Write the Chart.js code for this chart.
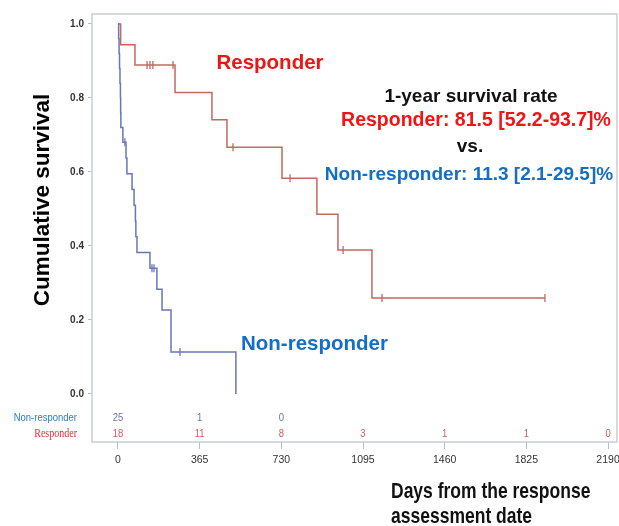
<!DOCTYPE html>
<html>
<head>
<meta charset="utf-8">
<script src="https://cdn.jsdelivr.net/npm/chart.js@4/dist/chart.umd.min.js"></script>
<style>
  html,body{margin:0;padding:0;background:#fff;}
  #wrap{width:619px;height:526px;position:relative;}
</style>
</head>
<body>
<div id="wrap"><canvas id="c"></canvas></div>
<script>
// ---- Data ----
const respDays = [0, 12, 76, 255, 420, 487, 733, 889, 983, 1135, 1908];
const respSurv = [1, 0.944, 0.889, 0.815, 0.741, 0.667, 0.583, 0.486, 0.389, 0.259, 0.259];
const respCensorDays = [130, 143, 156, 246, 514, 769, 1006, 1180, 1908];
const respCensorSurv = [0.889, 0.889, 0.889, 0.889, 0.667, 0.583, 0.389, 0.259, 0.259];

const nonDays = [0, 3, 5, 7, 9, 11, 12, 13, 22, 36, 40, 63, 72, 78, 80, 85, 143, 174, 197, 237, 527];
const nonSurv = [1, 0.96, 0.92, 0.88, 0.84, 0.80, 0.76, 0.72, 0.68, 0.6375, 0.595, 0.5525, 0.51, 0.4675, 0.425, 0.3825, 0.34, 0.283, 0.227, 0.113, 0];
const nonCensorDays = [31, 152, 161, 277];
const nonCensorSurv = [0.68, 0.34, 0.34, 0.113];

const xTicks = [0, 365, 730, 1095, 1460, 1825, 2190];
const yTicks = [0, 0.2, 0.4, 0.6, 0.8, 1.0];
const riskTimes = [0, 365, 730, 1095, 1460, 1825, 2190];
const riskNon = [25, 1, 0];
const riskResp = [18, 11, 8, 3, 1, 1, 0];

const RED = 'rgb(196,104,96)';
const BLUE = 'rgb(104,118,184)';

const pts = (xs, ys) => xs.map((x, i) => ({x, y: ys[i]}));

function txt(ctx, s, x, y, font, color, align, sy) {
  ctx.save();
  ctx.translate(x, y);
  ctx.scale(1, sy || 1);
  ctx.font = font;
  ctx.fillStyle = color;
  ctx.textAlign = align || 'left';
  ctx.textBaseline = 'middle';
  ctx.fillText(s, 0, 0);
  ctx.restore();
}

const SANS = '"Liberation Sans", Arial, Helvetica, sans-serif';

const annot = {
  id: 'annot',
  beforeDatasetsDraw(chart) {
    const {ctx, chartArea: a} = chart;
    ctx.save();
    ctx.strokeStyle = '#c8cdd6';
    ctx.lineWidth = 1.5;
    ctx.strokeRect(a.left, a.top, a.right - a.left, a.bottom - a.top);
    ctx.restore();
  },
  afterDraw(chart) {
    const ctx = chart.ctx;
    const xs = chart.scales.x, ys = chart.scales.y;
    // risk table
    const yNon = ys.getPixelForValue(-0.065);
    const yResp = ys.getPixelForValue(-0.108);
    riskNon.forEach((v, i) => txt(ctx, String(v), xs.getPixelForValue(riskTimes[i]), yNon, '9.5px ' + SANS, 'rgb(110,115,175)', 'center', 1.2));
    riskResp.forEach((v, i) => txt(ctx, String(v), xs.getPixelForValue(riskTimes[i]), yResp, '9.5px ' + SANS, 'rgb(205,95,90)', 'center', 1.2));
    txt(ctx, 'Non-responder', 77, yNon, '9.5px ' + SANS, 'rgb(40,125,205)', 'right', 1.2);
    txt(ctx, 'Responder', 77, yResp, '10px "Liberation Serif", "Times New Roman", serif', 'rgb(225,50,50)', 'right', 1.2);

    // Y axis title
    ctx.save();
    ctx.translate(43, 200);
    ctx.rotate(-Math.PI / 2);
    ctx.scale(1, 0.95);
    ctx.font = 'bold 22.5px ' + SANS;
    ctx.fillStyle = '#000';
    ctx.textAlign = 'center';
    ctx.textBaseline = 'middle';
    ctx.fillText('Cumulative survival', 0, 0);
    ctx.restore();

    // X axis title
    txt(ctx, 'Days from the response', 391, 492, 'bold 17.5px ' + SANS, '#111', 'left', 1.25);
    txt(ctx, 'assessment date', 391, 517, 'bold 17.5px ' + SANS, '#111', 'left', 1.25);

    // curve labels
    txt(ctx, 'Responder', 270, 63, 'bold 20.5px ' + SANS, 'rgb(240,20,20)', 'center', 1);
    txt(ctx, 'Non-responder', 241, 344, 'bold 20.5px ' + SANS, 'rgb(20,110,195)', 'left', 1);

    // 1-year survival block
    txt(ctx, '1-year survival rate', 471, 97, 'bold 19px ' + SANS, '#111', 'center', 1);
    txt(ctx, 'Responder: 81.5 [52.2-93.7]%', 476, 121, 'bold 19.5px ' + SANS, 'rgb(240,20,20)', 'center', 1);
    txt(ctx, 'vs.', 470, 147, 'bold 19px ' + SANS, '#111', 'center', 1);
    txt(ctx, 'Non-responder: 11.3 [2.1-29.5]%', 469, 175, 'bold 19px ' + SANS, 'rgb(20,110,195)', 'center', 1);
  }
};

new Chart(document.getElementById('c'), {
  type: 'line',
  data: {
    datasets: [
      {label: 'Non-responder', data: pts(nonDays, nonSurv), borderColor: BLUE, borderWidth: 1.5, pointRadius: 0, stepped: true, fill: false},
      {label: 'Responder', data: pts(respDays, respSurv), borderColor: RED, borderWidth: 1.5, pointRadius: 0, stepped: true, fill: false},
      {type: 'scatter', label: 'nc', data: pts(nonCensorDays, nonCensorSurv), pointStyle: 'line', pointRotation: 90, pointRadius: 4, borderColor: BLUE, pointBorderWidth: 1.3, showLine: false},
      {type: 'scatter', label: 'rc', data: pts(respCensorDays, respCensorSurv), pointStyle: 'line', pointRotation: 90, pointRadius: 4, borderColor: RED, pointBorderWidth: 1.3, showLine: false}
    ]
  },
  options: {
    responsive: true,
    maintainAspectRatio: false,
    animation: false,
    layout: {autoPadding: false, padding: {top: 14, right: 2, left: 0, bottom: 0}},
    plugins: {legend: {display: false}, tooltip: {enabled: false}},
    scales: {
      x: {
        type: 'linear', min: -116, max: 2230,
        afterBuildTicks: s => { s.ticks = xTicks.map(v => ({value: v})); },
        afterFit: s => { s.height = 84; s.paddingLeft = 0; s.paddingRight = 0; },
        grid: {drawOnChartArea: false, drawTicks: true, tickLength: 7, color: '#b8bec8'},
        border: {display: false},
        ticks: {color: '#333', font: {family: SANS, size: 10.5}, padding: 5, maxRotation: 0, autoSkip: false, callback: v => String(v)}
      },
      y: {
        type: 'linear', min: -0.13, max: 1.027,
        afterBuildTicks: s => { s.ticks = yTicks.map(v => ({value: v})); },
        afterFit: s => { s.width = 92; s.paddingTop = 0; s.paddingBottom = 0; },
        grid: {drawOnChartArea: false, drawTicks: true, tickLength: 4, color: '#b8bec8'},
        border: {display: false},
        ticks: {color: '#333', font: {family: SANS, size: 10, weight: 'bold'}, padding: 4, callback: v => v.toFixed(1)}
      }
    }
  },
  plugins: [annot]
});
</script>
</body>
</html>
